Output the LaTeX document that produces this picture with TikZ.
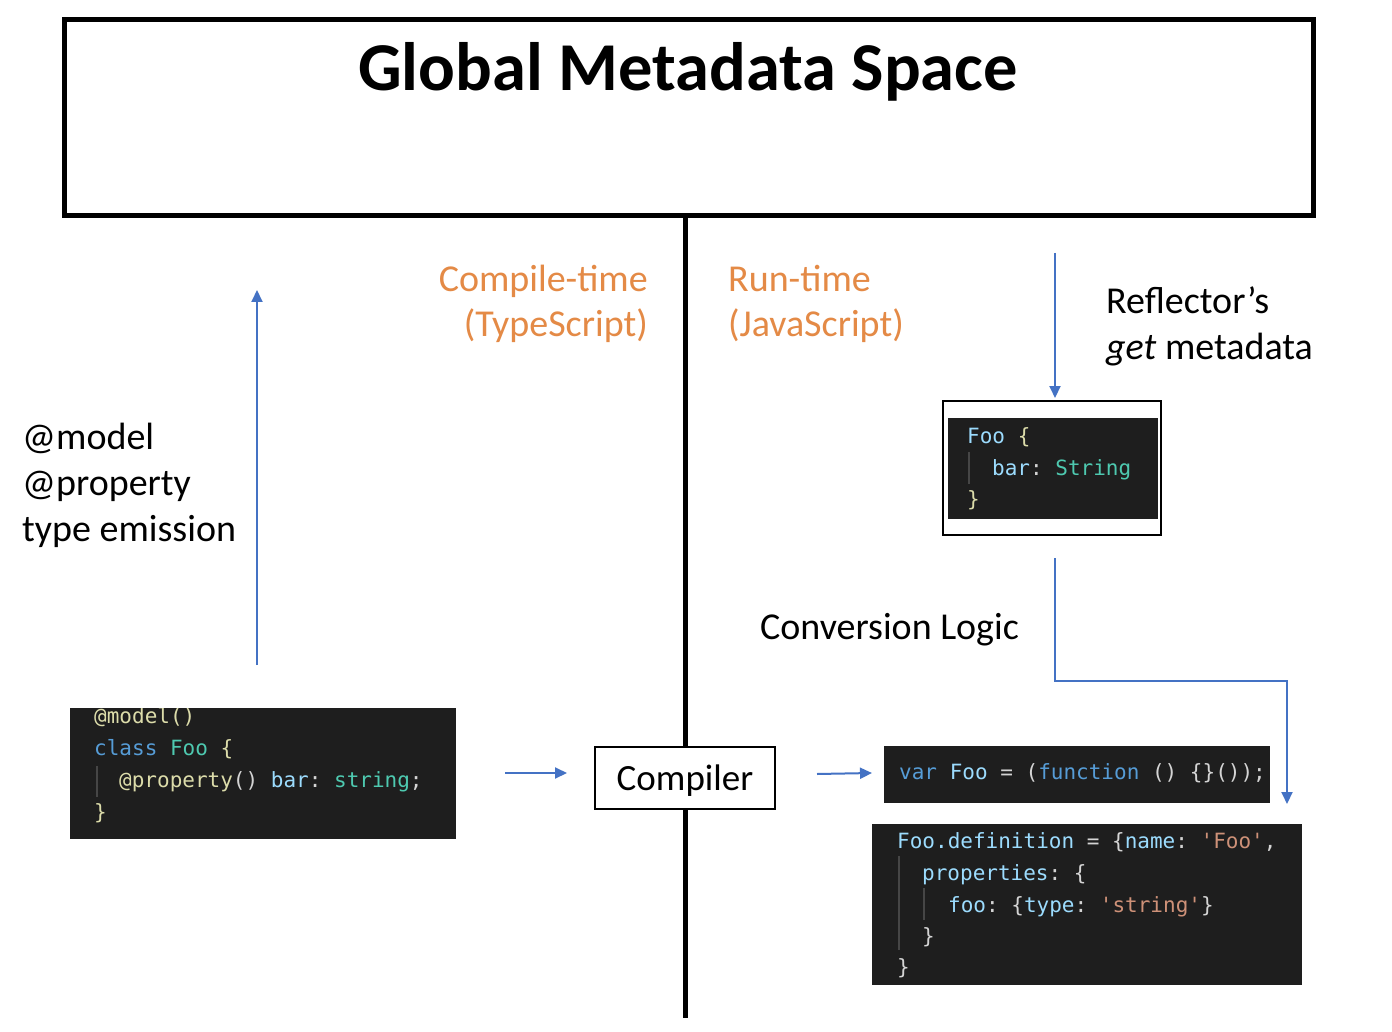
\documentclass[tikz,border=0pt]{standalone}
\usepackage{fontspec}
\setmainfont{Carlito}
\setmonofont{DejaVu Sans Mono}
\usetikzlibrary{arrows.meta}
\definecolor{orng}{RGB}{228,138,70}
\definecolor{arrblue}{RGB}{68,114,196}
\definecolor{codebg}{RGB}{30,30,30}
\definecolor{ckw}{RGB}{86,156,214}
\definecolor{cty}{RGB}{78,201,176}
\definecolor{cvar}{RGB}{156,220,254}
\definecolor{cstr}{RGB}{206,145,120}
\definecolor{cpun}{RGB}{212,212,212}
\definecolor{cfn}{RGB}{220,220,170}
\definecolor{cguide}{RGB}{70,70,70}
\begin{document}
\begin{tikzpicture}[x=1pt,y=-1pt,
 lbl/.style={anchor=base west,inner sep=0pt,font=\fontsize{38}{46}\selectfont},
 lblr/.style={anchor=base east,inner sep=0pt,font=\fontsize{38}{46}\selectfont},
 code/.style={anchor=base west,inner sep=0pt,font=\ttfamily\fontsize{21}{32}\selectfont,text=cpun},
 codebox/.style={fill=codebg,draw=none,inner sep=0pt},
 flow/.style={draw=arrblue,line width=2pt,-{Triangle[length=12pt,width=11pt]}},
 guide/.style={draw=cguide,line width=1.5pt}]
\useasboundingbox[fill=white] (0,0) rectangle (1392,1032);

% global space
\node[draw,line width=5pt,minimum width=1249pt,minimum height=196pt,inner sep=0pt] (gms) at (689,117.5) {};
\node[font=\bfseries\fontsize{68.5}{68.5}\selectfont,anchor=base,inner sep=0pt] (title) at (688,91) {Global Metadata Space};

% divider
\coordinate (divtop) at (685,216);
\coordinate (divbot) at (685,1018);
\draw[line width=5pt] (divtop) -- (divbot);

% phase labels
\node[lblr,text=orng] (ct1) at (648,291) {Compile-time};
\node[lblr,text=orng] (ct2) at (648,337) {(TypeScript)};
\node[lbl,text=orng] (rt1) at (728,291) {Run-time};
\node[lbl,text=orng] (rt2) at (728,337) {(JavaScript)};

\node[lbl] (rf1) at (1106,313) {Reflector’s};
\node[lbl] (rf2) at (1106,359) {\textit{get} metadata};

\node[lbl] (m1) at (22,449) {@model};
\node[lbl] (m2) at (22,495) {@property};
\node[lbl] (m3) at (22,541) {type emission};

\node[lbl] (conv) at (760,639) {Conversion Logic};

% compiler
\node[draw,line width=2pt,fill=white,minimum width=180pt,minimum height=62pt,inner sep=0pt,text depth=0pt,font=\fontsize{37}{37}\selectfont] (comp) at (685,778) {Compiler};

% code block: class Foo
\node[codebox,minimum width=386pt,minimum height=131pt] (cls) at (263,773.5) {};
\begin{scope}
\clip (70,708) rectangle (456,839);
\node[code] (c1) at (94,723) {\textcolor{cfn}{@model()}};
\end{scope}
\node[code] (c2) at (94,755) {\textcolor{ckw}{class} \textcolor{cty}{Foo} \textcolor{cfn}{\{}};
\node[code] (c3) at (119,787) {\textcolor{cfn}{@property}() \textcolor{cvar}{bar}: \textcolor{cty}{string};};
\node[code] (c4) at (94,819) {\textcolor{cfn}{\}}};
\draw[guide] (97,766) -- (97,797);

% reflector box
\node[draw,line width=2pt,minimum width=218pt,minimum height=134pt,inner sep=0pt] (rbox) at (1052,468) {};
\node[codebox,minimum width=210pt,minimum height=101pt] (rcode) at (1053,468.5) {};
\node[code] (r1) at (967,443) {\textcolor{cvar}{Foo} \textcolor{cfn}{\{}};
\node[code] (r2) at (992,475) {\textcolor{cvar}{bar}: \textcolor{cty}{String}};
\node[code] (r3) at (967,506) {\textcolor{cfn}{\}}};
\draw[guide] (969,452) -- (969,484);

% var Foo block
\node[codebox,minimum width=386pt,minimum height=57pt] (varb) at (1077,774.5) {};
\node[code] (v1) at (899,779) {\textcolor{ckw}{var} \textcolor{cvar}{Foo} = (\textcolor{ckw}{function} () \{\}());};

% definition block
\node[codebox,minimum width=430pt,minimum height=161pt] (defb) at (1087,904.5) {};
\node[code] (d1) at (897,848) {\textcolor{cvar}{Foo.definition} = \{\textcolor{cvar}{name}: \textcolor{cstr}{\char39 Foo\char39},};
\node[code] (d2) at (922,880) {\textcolor{cvar}{properties}: \{};
\node[code] (d3) at (948,912) {\textcolor{cvar}{foo}: \{\textcolor{cvar}{type}: \textcolor{cstr}{\char39 string\char39}\}};
\node[code] (d4) at (922,943) {\}};
\node[code] (d5) at (897,974) {\}};
\draw[guide] (899,856) -- (899,950);
\draw[guide] (924,888) -- (924,920);

% arrows
\coordinate (upS) at (257,665);
\coordinate (upE) at (257,290);
\draw[flow] (upS) -- (upE);

\coordinate (dnS) at (1055,253);
\coordinate (dnE) at (1055,398);
\draw[flow] (dnS) -- (dnE);

\coordinate (a1S) at (505,773);
\coordinate (a1E) at (567,773);
\draw[flow] (a1S) -- (a1E);

\coordinate (a2S) at (817,774);
\coordinate (a2E) at (872,773);
\draw[flow] (a2S) -- (a2E);

\coordinate (cvS) at (1055,558);
\coordinate (cvE) at (1287,804);
\draw[flow] (cvS) -- (1055,681) -- (1287,681) -- (cvE);
\end{tikzpicture}
\end{document}
